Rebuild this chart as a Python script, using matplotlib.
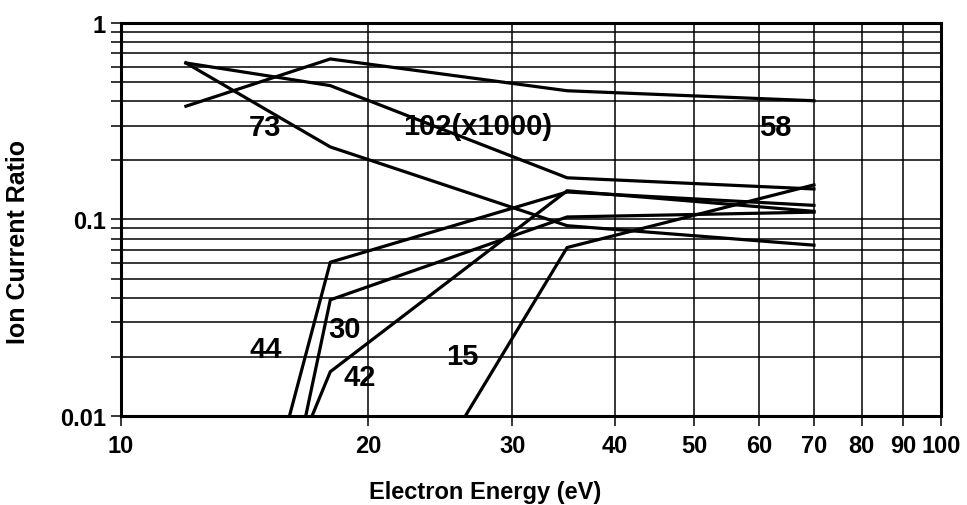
import matplotlib
matplotlib.use("Agg")
import matplotlib.pyplot as plt
from matplotlib.ticker import FixedLocator, NullFormatter

plt.rcParams['font.family'] = ['Liberation Sans', 'DejaVu Sans']
plt.rcParams['font.weight'] = 'bold'

# electron energy (eV) and ion current ratio
energy = [12, 18, 35, 70]
s58 = [0.377, 0.656, 0.452, 0.402]
s102 = [0.626, 0.48, 0.163, 0.143]
s73 = [0.626, 0.234, 0.093, 0.074]

x44 = [16.05, 18, 35, 70]
s44 = [0.01, 0.0606, 0.138, 0.118]
x30 = [16.8, 18, 35, 70]
s30 = [0.01, 0.039, 0.103, 0.109]
x42 = [17.1, 18, 35, 70]
s42 = [0.01, 0.0168, 0.14, 0.11]
x15 = [26.3, 35, 70]
s15 = [0.01, 0.072, 0.15]

labels = ["73", "102(x1000)", "58", "44", "30", "42", "15"]
label_x = [15.0, 27.2, 62.7, 15.0, 18.75, 19.55, 26.1]
label_y = [0.296, 0.30, 0.296, 0.0219, 0.0277, 0.0158, 0.0202]

fig = plt.figure(figsize=(9.67, 5.06), dpi=100)
ax = fig.add_axes([0.1251, 0.1759, 0.8480, 0.7767])

for xs, ys in [(energy, s58), (energy, s102), (energy, s73),
               (x44, s44), (x30, s30), (x42, s42), (x15, s15)]:
    ax.plot(xs, ys, color='black', lw=2.3, solid_joinstyle='miter', zorder=3)

for t, lx, ly in zip(labels, label_x, label_y):
    ax.text(lx, ly, t, fontsize=21, fontweight='bold', ha='center', va='center', zorder=4)

ax.set_xscale('log')
ax.set_yscale('log')
ax.set_xlim(10, 100)
ax.set_ylim(0.01, 1)

xt = [10, 20, 30, 40, 50, 60, 70, 80, 90, 100]
ax.xaxis.set_major_locator(FixedLocator(xt))
ax.xaxis.set_minor_locator(FixedLocator([]))
ax.set_xticklabels([str(v) for v in xt])
ax.xaxis.set_minor_formatter(NullFormatter())

yt = [0.01, 0.1, 1]
ax.yaxis.set_major_locator(FixedLocator(yt))
ax.set_yticklabels(['0.01', '0.1', '1'])
ymin = [k * 0.01 for k in range(2, 10)] + [k * 0.1 for k in range(2, 10)]
ax.yaxis.set_minor_locator(FixedLocator(ymin))
ax.yaxis.set_minor_formatter(NullFormatter())

ax.grid(True, which='both', color='black', lw=1.1)
ax.set_axisbelow(True)
ax.tick_params(which='both', direction='out', length=7, width=1.1, color='black')
ax.tick_params(axis='x', labelsize=17, pad=6)
ax.tick_params(axis='y', labelsize=17, pad=4)
for s in ax.spines.values():
    s.set_linewidth(2.2)

ax.set_xlabel('Electron Energy (eV)', fontsize=17, fontweight='bold')
ax.set_ylabel('Ion Current Ratio', fontsize=18, fontweight='bold')
ax.xaxis.set_label_coords(0.444, -0.162)
ax.yaxis.set_label_coords(-0.111, 0.445)

fig.savefig('out.png', dpi=100)
